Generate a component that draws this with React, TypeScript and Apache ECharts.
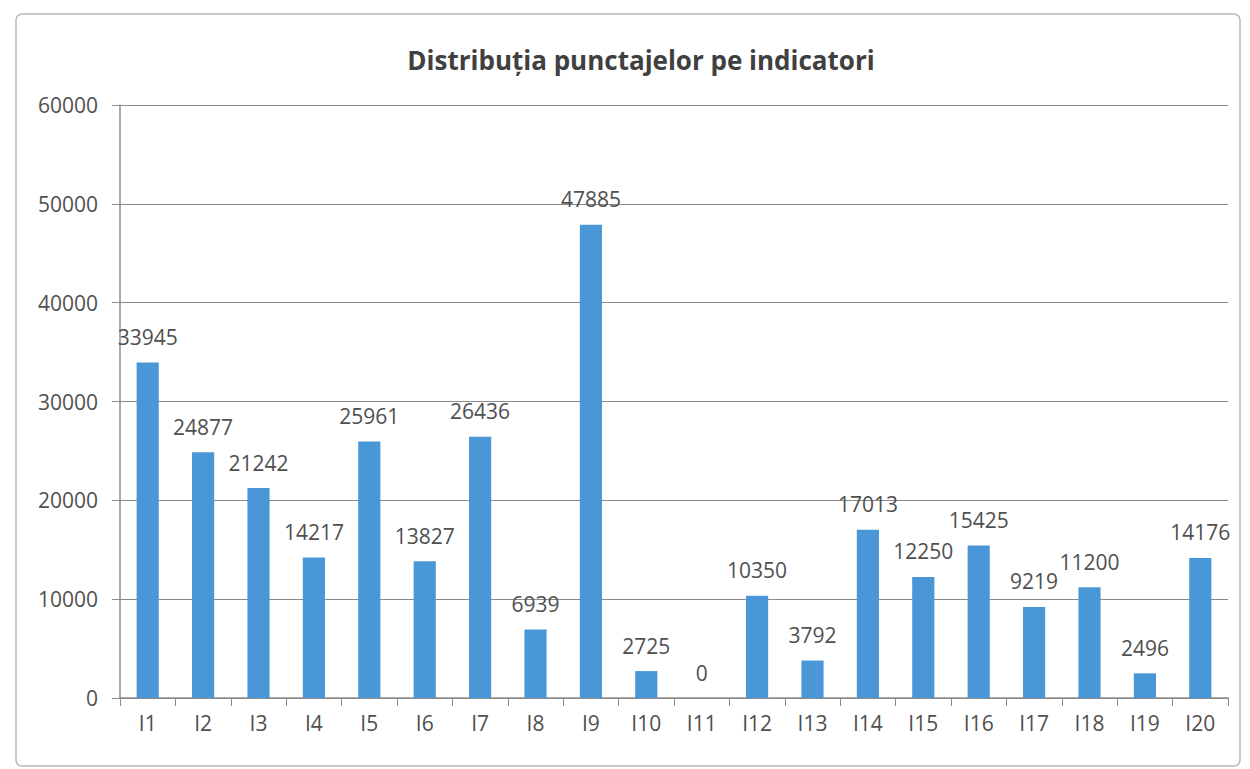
import React, { useEffect, useRef } from "react";
import * as echarts from "echarts";

const categories = ["I1","I2","I3","I4","I5","I6","I7","I8","I9","I10","I11","I12","I13","I14","I15","I16","I17","I18","I19","I20"];
const values = [33945, 24877, 21242, 14217, 25961, 13827, 26436, 6939, 47885, 2725, 0, 10350, 3792, 17013, 12250, 15425, 9219, 11200, 2496, 14176];
const yTicks = [0, 10000, 20000, 30000, 40000, 50000, 60000];
const title = "Distribuția punctajelor pe indicatori";

export default function App() {
  const ref = useRef<HTMLDivElement>(null);
  useEffect(() => {
    document.body.style.margin = "0";
    const chart = echarts.init(ref.current!, null, { renderer: "svg" });
    const font = "'Open Sans', 'Liberation Sans', sans-serif";
    chart.setOption({
      animation: false,
      backgroundColor: "#ffffff",
      title: {
        text: title,
        left: 636,
        top: 42,
        textAlign: "center",
        textStyle: { fontFamily: font, fontSize: 26, fontWeight: "bold", color: "#404040" },
      },
      graphic: [
        {
          type: "rect",
          shape: { x: 16, y: 14, width: 1224, height: 752, r: 6 },
          style: { fill: "none", stroke: "#b8b8b8", lineWidth: 1.5 },
          silent: true,
        },
      ],
      grid: { left: 120, right: 22, top: 105, bottom: 71, containLabel: false },
      xAxis: {
        type: "category",
        data: categories,
        axisLine: { lineStyle: { color: "#8c8c8c", width: 1.5 } },
        axisTick: { show: true, alignWithLabel: false, length: 8, lineStyle: { color: "#8c8c8c" } },
        axisLabel: { fontFamily: font, fontSize: 21, color: "#505050", margin: 14 },
      },
      yAxis: {
        type: "value",
        min: yTicks[0],
        max: yTicks[yTicks.length - 1],
        interval: 10000,
        axisLine: { show: true, lineStyle: { color: "#8c8c8c", width: 1.5 } },
        axisTick: { show: true, length: 8, lineStyle: { color: "#8c8c8c" } },
        axisLabel: { fontFamily: font, fontSize: 21, color: "#505050", margin: 22, formatter: (v: number) => String(v) },
        splitLine: { lineStyle: { color: "#8a8a8a", width: 1.2 } },
      },
      series: [
        {
          type: "bar",
          data: values,
          barWidth: "40%",
          itemStyle: { color: "#4a97d8" },
          label: {
            show: true,
            position: "top",
            distance: 15,
            fontFamily: font,
            fontSize: 21,
            color: "#505050",
          },
        },
      ],
    });
    return () => chart.dispose();
  }, []);
  return <div ref={ref} style={{ width: 1250, height: 769 }} />;
}
